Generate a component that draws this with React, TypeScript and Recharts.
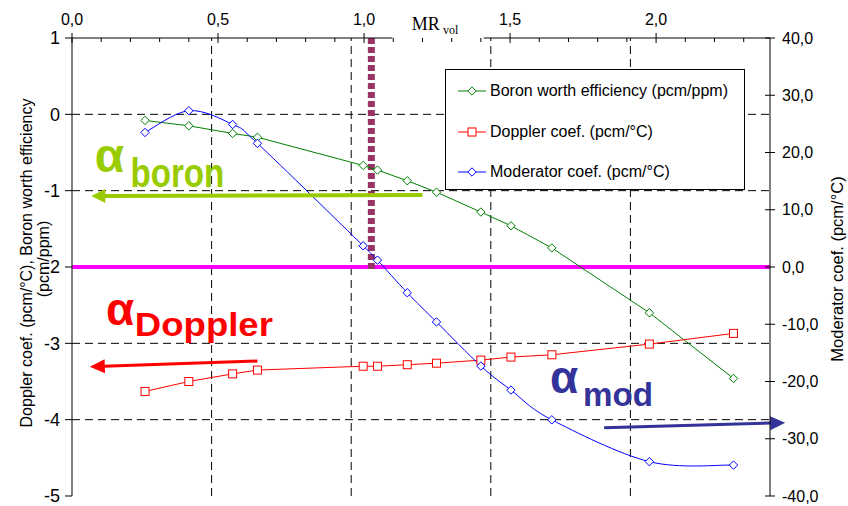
import React from 'react';
import { LineChart, Line, XAxis, YAxis, ReferenceLine, ReferenceDot, Legend, Label } from 'recharts';

// ---- data ----
const mrValues = [0.25, 0.4, 0.55, 0.635, 0.997, 1.046, 1.148, 1.248, 1.4, 1.503, 1.643, 1.977, 2.265];
const boronValues = [-0.08, -0.15, -0.25, -0.3, -0.67, -0.73, -0.87, -1.02, -1.28, -1.46, -1.75, -2.6, -3.46];
const dopplerValues = [-3.63, -3.5, -3.4, -3.35, -3.3, -3.3, -3.28, -3.26, -3.22, -3.18, -3.15, -3.01, -2.87];
const moderatorValues = [23.5, 27.3, 24.9, 21.6, 3.7, 1.2, -4.5, -9.6, -17.3, -21.5, -26.7, -34.0, -34.6];

const mrTicks = [0, 0.1, 0.2, 0.3, 0.4, 0.5, 0.6, 0.7, 0.8, 0.9, 1.0, 1.1, 1.2, 1.3, 1.4, 1.5, 1.6, 1.7, 1.8, 1.9, 2.0, 2.1, 2.2, 2.3];
const leftTicks = [-5, -4, -3, -2, -1, 0, 1];
const rightTicks = [-40, -30, -20, -10, 0, 10, 20, 30, 40];
const gridX = [1, 2, 3, 4];
const gridY = [0, -1, -2, -3, -4];
const criticalMR = 1.025;

const seriesNames = ['Boron worth efficiency (pcm/ppm)', 'Doppler coef. (pcm/°C)', 'Moderator coef. (pcm/°C)'];

const data = mrValues.map((mr, i) => ({
  mr,
  boron: boronValues[i],
  doppler: dopplerValues[i],
  moderator: moderatorValues[i],
}));

const MR_MAX = 2.39;
const FONT = '"Liberation Sans", Arial, Helvetica, sans-serif';
const SERIF = '"Liberation Serif", "Times New Roman", serif';

const GREEN = '#008000';
const RED = '#ff0000';
const BLUE = '#0000ff';

const fmtComma = (v: number) => v.toFixed(1).replace('.', ',');

// Excel-like smoothed line (uniform Catmull-Rom as cubic Bezier)
const smoothCurve: any = (context: any) => {
  let pts: [number, number][] = [];
  return {
    areaStart() {},
    areaEnd() {},
    lineStart() {
      pts = [];
    },
    point(x: number, y: number) {
      pts.push([+x, +y]);
    },
    lineEnd() {
      if (!pts.length) return;
      context.moveTo(pts[0][0], pts[0][1]);
      for (let i = 0; i < pts.length - 1; i++) {
        const p0 = pts[Math.max(0, i - 1)];
        const p1 = pts[i];
        const p2 = pts[i + 1];
        const p3 = pts[Math.min(pts.length - 1, i + 2)];
        const c1x = p1[0] + (p2[0] - p0[0]) / 6;
        const c1y = p1[1] + (p2[1] - p0[1]) / 6;
        const c2x = p2[0] - (p3[0] - p1[0]) / 6;
        const c2y = p2[1] - (p3[1] - p1[1]) / 6;
        context.bezierCurveTo(c1x, c1y, c2x, c2y, p2[0], p2[1]);
      }
    },
  };
};

function diamondPath(cx: number, cy: number, r: number) {
  return `M${cx},${cy - r}L${cx + r},${cy}L${cx},${cy + r}L${cx - r},${cy}Z`;
}

const makeDiamondDot = (color: string) => (p: any) => {
  if (p.cx == null || p.cy == null) return <g key={p.index} />;
  return <path key={p.index} d={diamondPath(p.cx, p.cy, 4.2)} fill="#fff" stroke={color} strokeWidth={1} />;
};
const makeSquareDot = (color: string) => (p: any) => {
  if (p.cx == null || p.cy == null) return <g key={p.index} />;
  return <rect key={p.index} x={p.cx - 4} y={p.cy - 4} width={8} height={8} fill="#fff" stroke={color} strokeWidth={1} />;
};

const TopTick = (p: any) => {
  const v = p.payload.value;
  const x = p.x;
  const y = p.y;
  const major = Math.abs(v * 2 - Math.round(v * 2)) < 1e-6;
  if (major) {
    return (
      <g>
        <line x1={x} x2={x} y1={y - 5} y2={y + 5} stroke="#000" strokeWidth={1} />
        <text x={x} y={y - 13} textAnchor="middle" fontSize={16} fontFamily={FONT} fill="#000">
          {fmtComma(v)}
        </text>
      </g>
    );
  }
  return <line x1={x} x2={x} y1={y} y2={y + 4} stroke="#000" strokeWidth={1} />;
};

const RightTick = (p: any) => {
  const v = p.payload.value;
  const x = p.x;
  const y = p.y;
  return (
    <g>
      <line x1={x - 5} x2={x + 5} y1={y} y2={y} stroke="#000" strokeWidth={1} />
      <text x={x + 12} y={y + 5.5} textAnchor="start" fontSize={16} fontFamily={FONT} fill="#000">
        {fmtComma(v)}
      </text>
    </g>
  );
};

const MrLabel = (props: any) => {
  const vb = props.viewBox;
  if (!vb) return null;
  const toX = (v: number) => vb.x + (v / MR_MAX) * vb.width;
  const x0 = toX(1.097);
  const x1 = toX(1.41);
  return (
    <g>
      <rect x={x0} y={vb.y} width={x1 - x0} height={vb.height + 6} fill="#fff" />
      <text x={toX(1.163)} y={vb.y + 22} fontFamily={SERIF} fontSize={18} fill="#000">
        MR
        <tspan x={toX(1.27)} y={vb.y + 25.5} fontSize={12}>vol</tspan>
      </text>
    </g>
  );
};

const LeftLabel = (props: any) => {
  const vb = props.viewBox;
  if (!vb) return null;
  const cy = 263;
  const x1 = vb.x + 26;
  const x2 = vb.x + 43;
  return (
    <g>
      <text x={x1} y={cy} transform={`rotate(-90 ${x1} ${cy})`} textAnchor="middle" dominantBaseline="central" fontSize={16} fontFamily={FONT} fill="#000">
        Doppler coef. (pcm/°C), Boron worth efficiency
      </text>
      <text x={x2} y={cy - 4} transform={`rotate(-90 ${x2} ${cy - 4})`} textAnchor="middle" dominantBaseline="central" fontSize={16} fontFamily={FONT} fill="#000">
        (pcm/ppm)
      </text>
    </g>
  );
};

const RightLabel = (props: any) => {
  const vb = props.viewBox;
  if (!vb) return null;
  const cx = vb.x + 67;
  const cy = 269;
  return (
    <text x={cx} y={cy} transform={`rotate(-90 ${cx} ${cy})`} textAnchor="middle" dominantBaseline="central" fontSize={16.5} fontFamily={FONT} fill="#000">
      Moderator coef. (pcm/°C)
    </text>
  );
};

const arrowShape = (color: string, width: number, headLen: number, headHalf: number) => (p: any) => {
  const { x1, y1, x2, y2 } = p;
  if ([x1, y1, x2, y2].some((v) => v == null || isNaN(v))) return <g />;
  const dx = x2 - x1;
  const dy = y2 - y1;
  const len = Math.hypot(dx, dy) || 1;
  const ux = dx / len;
  const uy = dy / len;
  const bx = x2 - ux * headLen;
  const by = y2 - uy * headLen;
  const nx = -uy;
  const ny = ux;
  return (
    <g>
      <line x1={x1} y1={y1} x2={bx + ux} y2={by + uy} stroke={color} strokeWidth={width} />
      <polygon
        points={`${x2},${y2} ${bx + nx * headHalf},${by + ny * headHalf} ${bx - nx * headHalf},${by - ny * headHalf}`}
        fill={color}
      />
    </g>
  );
};

// alpha symbol with a subscript, drawn as one text element
const alphaShape = (sub: string, color: string, alphaSize: number, subSize: number, subDx: number, subDy: number, subLen: number) => (p: any) => (
  <text x={p.cx} y={p.cy} fontSize={alphaSize} fontWeight="bold" fill={color} fontFamily={FONT}>
    α
    <tspan x={p.cx + subDx} y={p.cy + subDy} fontSize={subSize} textLength={subLen} lengthAdjust="spacingAndGlyphs">
      {sub}
    </tspan>
  </text>
);

const markerFor: Record<string, 'diamond' | 'square'> = {
  [seriesNames[0]]: 'diamond',
  [seriesNames[1]]: 'square',
  [seriesNames[2]]: 'diamond',
};

const LegendBox = (props: any) => {
  const payload = props.payload || [];
  return (
    <div
      style={{
        boxSizing: 'border-box',
        width: 300,
        height: 121,
        border: '1px solid #000',
        background: '#fff',
        position: 'relative',
        fontFamily: FONT,
        fontSize: 16,
      }}
    >
      {payload.map((e: any, i: number) => (
        <div
          key={i}
          style={{
            position: 'absolute',
            left: 12,
            top: 11 + i * 40.5,
            height: 20,
            display: 'flex',
            alignItems: 'center',
            whiteSpace: 'nowrap',
            color: '#000',
          }}
        >
          <svg width={28} height={12} style={{ marginRight: 4 }}>
            <line x1={0} x2={28} y1={6} y2={6} stroke={e.color} strokeWidth={1} />
            {markerFor[e.value] === 'square' ? (
              <rect x={10} y={2} width={8} height={8} fill="#fff" stroke={e.color} />
            ) : (
              <path d={diamondPath(14, 6, 4.2)} fill="#fff" stroke={e.color} />
            )}
          </svg>
          <span>{e.value}</span>
        </div>
      ))}
    </div>
  );
};

export default function App() {
  return (
    <div style={{ position: 'absolute', left: 0, top: 0, background: '#fff', fontFamily: FONT }}>
      <LineChart width={848} height={506} data={data} margin={{ top: 8, right: 0, bottom: 10, left: 0 }}>
        <XAxis
          xAxisId="mr"
          dataKey="mr"
          type="number"
          orientation="top"
          domain={[0, MR_MAX]}
          ticks={mrTicks}
          interval={0}
          height={30}
          tickLine={false}
          tickSize={0}
          tickMargin={0}
          tick={<TopTick />}
          axisLine={{ stroke: '#000', strokeWidth: 1 }}
          allowDataOverflow
        >
          <Label content={<MrLabel />} />
        </XAxis>
        <XAxis
          xAxisId="grid"
          dataKey="mr"
          type="number"
          orientation="bottom"
          domain={[0, 5]}
          allowDataOverflow
          height={0}
          tick={false}
          tickLine={false}
          axisLine={{ stroke: '#888', strokeWidth: 1 }}
        />
        <YAxis
          yAxisId="left"
          orientation="left"
          type="number"
          domain={[-5, 1]}
          ticks={leftTicks}
          interval={0}
          width={72}
          tickSize={7}
          tickMargin={5}
          tick={{ fill: '#000', fontSize: 18, fontFamily: FONT }}
          tickLine={{ stroke: '#000' }}
          axisLine={{ stroke: '#000' }}
          allowDataOverflow
        >
          <Label content={<LeftLabel />} />
        </YAxis>
        <YAxis
          yAxisId="right"
          orientation="right"
          type="number"
          domain={[-40, 40]}
          ticks={rightTicks}
          interval={0}
          width={78}
          tickLine={false}
          tickSize={0}
          tickMargin={0}
          tick={<RightTick />}
          axisLine={{ stroke: '#000' }}
          allowDataOverflow
        >
          <Label content={<RightLabel />} />
        </YAxis>

        {gridX.map((g) => (
          <ReferenceLine key={`gx${g}`} xAxisId="grid" yAxisId="left" x={g} stroke="#000" strokeWidth={1} strokeDasharray="8 5" />
        ))}
        {gridY.map((g) => (
          <ReferenceLine key={`gy${g}`} xAxisId="grid" yAxisId="left" y={g} stroke="#000" strokeWidth={1} strokeDasharray="8 5" />
        ))}

        <ReferenceLine xAxisId="grid" yAxisId="right" y={0} stroke="#ff00ff" strokeWidth={4} />

        <ReferenceLine
          xAxisId="mr"
          yAxisId="left"
          segment={[{ x: criticalMR, y: 1 }, { x: criticalMR, y: -2.06 }]}
          stroke="#993366"
          strokeWidth={7}
          strokeDasharray="6 3"
          ifOverflow="visible"
        />

        <Line
          xAxisId="mr"
          yAxisId="left"
          name={seriesNames[0]}
          dataKey="boron"
          type="linear"
          stroke={GREEN}
          strokeWidth={1}
          dot={makeDiamondDot(GREEN)}
          activeDot={false}
          isAnimationActive={false}
        />
        <Line
          xAxisId="mr"
          yAxisId="left"
          name={seriesNames[1]}
          dataKey="doppler"
          type="linear"
          stroke={RED}
          strokeWidth={1}
          dot={makeSquareDot(RED)}
          activeDot={false}
          isAnimationActive={false}
        />
        <Line
          xAxisId="mr"
          yAxisId="right"
          name={seriesNames[2]}
          dataKey="moderator"
          type={smoothCurve}
          stroke={BLUE}
          strokeWidth={1}
          dot={makeDiamondDot(BLUE)}
          activeDot={false}
          isAnimationActive={false}
        />

        {/* annotation arrows */}
        <ReferenceLine
          xAxisId="mr"
          yAxisId="left"
          segment={[{ x: 1.2, y: -1.057 }, { x: 0.066, y: -1.07 }]}
          ifOverflow="visible"
          shape={arrowShape('#99cc00', 4, 14, 7)}
        />
        <ReferenceLine
          xAxisId="mr"
          yAxisId="left"
          segment={[{ x: 0.635, y: -3.232 }, { x: 0.061, y: -3.306 }]}
          ifOverflow="visible"
          shape={arrowShape('#ff0000', 3, 15, 7)}
        />
        <ReferenceLine
          xAxisId="mr"
          yAxisId="left"
          segment={[{ x: 1.822, y: -4.105 }, { x: 2.442, y: -4.04 }]}
          ifOverflow="visible"
          shape={arrowShape('#333399', 3, 15, 7)}
        />

        {/* annotation texts */}
        <ReferenceDot xAxisId="mr" yAxisId="left" x={0.078} y={-0.752} r={0} ifOverflow="visible" shape={alphaShape('boron', '#99cc00', 48, 40, 35.6, 15.3, 94)} />
        <ReferenceDot xAxisId="mr" yAxisId="left" x={0.116} y={-2.76} r={0} ifOverflow="visible" shape={alphaShape('Doppler', '#ff0000', 46, 34, 29, 11, 138)} />
        <ReferenceDot xAxisId="mr" yAxisId="left" x={1.637} y={-3.651} r={0} ifOverflow="visible" shape={alphaShape('mod', '#333399', 46, 34, 33, 13, 70)} />

        <Legend
          layout="vertical"
          align="center"
          verticalAlign="middle"
          wrapperStyle={{ position: 'absolute', left: 445, top: 69, width: 300, height: 121 }}
          content={<LegendBox />}
        />
      </LineChart>
    </div>
  );
}
